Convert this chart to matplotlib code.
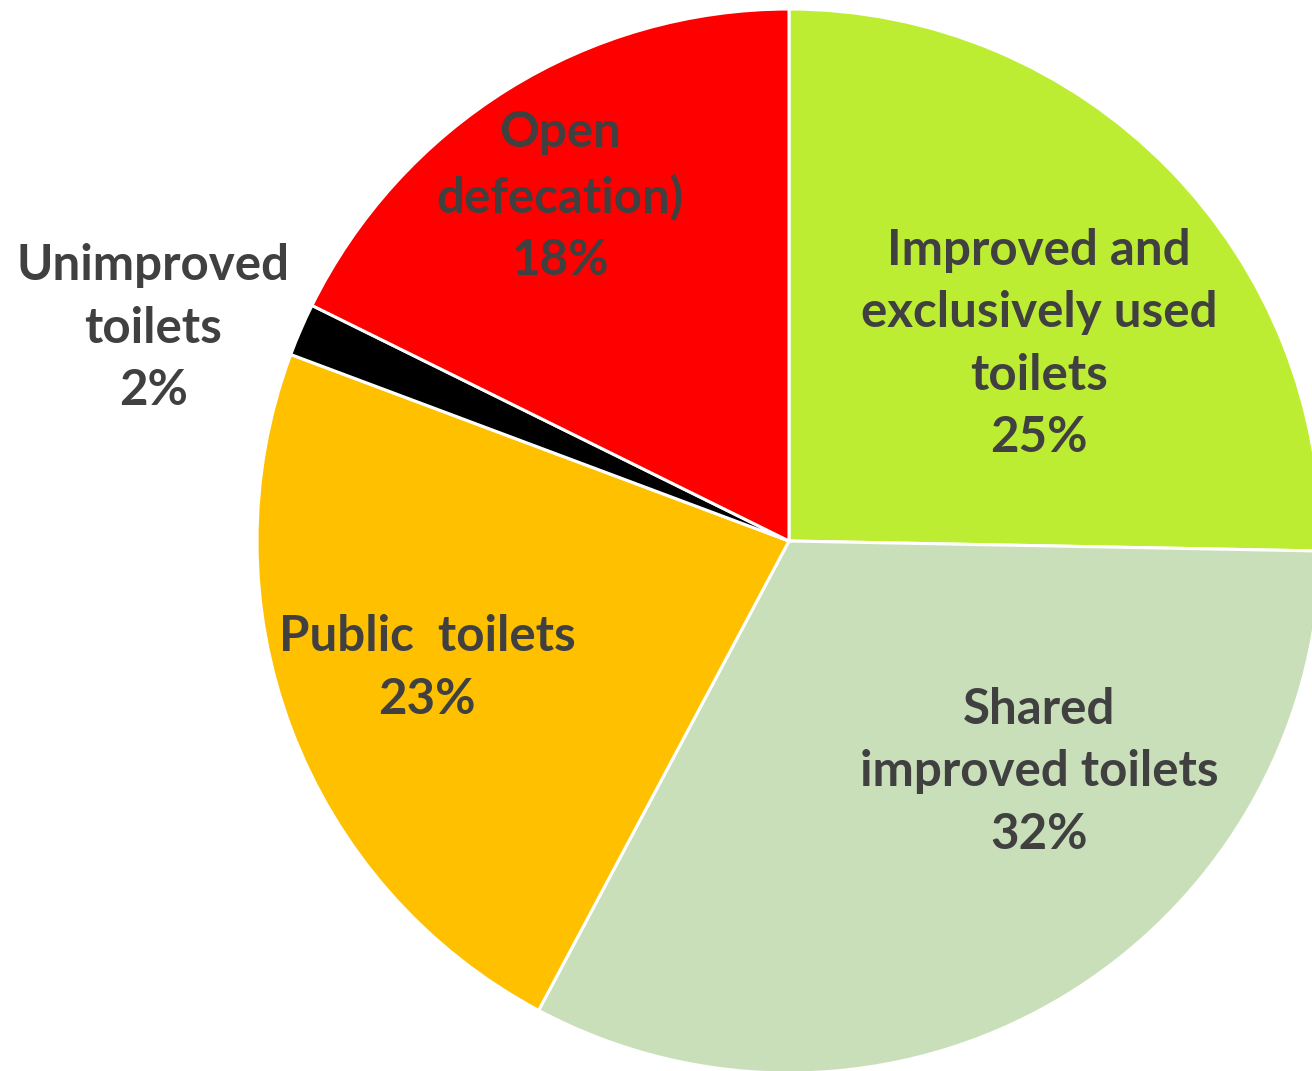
import numpy as np
import matplotlib.pyplot as plt

# slice data, clockwise from the top
categories = ["Improved and\nexclusively used\ntoilets", "Shared\nimproved toilets",
              "Public  toilets", "Unimproved\ntoilets", "Open\ndefecation)"]
shares = [25.3, 32.5, 22.9, 1.6, 17.7]
pct_labels = ["25%", "32%", "23%", "2%", "18%"]
colors = ["#BDED33", "#C9DFB9", "#FFC000", "#000000", "#FF0000"]

# label centres in pie-radius units
label_pos = [(0.47, 0.37), (0.47, -0.434), (-0.68, -0.239), (-1.195, 0.40), (-0.43, 0.647)]

plt.rcParams['font.family'] = ['Lato', 'DejaVu Sans']

fig = plt.figure(figsize=(13.12, 10.71), dpi=100)
ax = fig.add_axes([0, 0, 1, 1])

ax.pie(shares, colors=colors, startangle=90, counterclock=False,
       radius=1.0, wedgeprops=dict(edgecolor="white", linewidth=2.2))

for cat, pct, (x, y) in zip(categories, pct_labels, label_pos):
    ax.text(x, y, cat + "\n" + pct, ha="center", va="center",
            fontsize=35.5, fontweight="bold", color="#404040", linespacing=1.47)

ax.set_xlim(-789 / 532, (1312 - 789) / 532)
ax.set_ylim(-(1071 - 541) / 532, 541 / 532)
ax.set_aspect("auto")
ax.axis("off")

fig.savefig("out.png", dpi=100, facecolor="white")
